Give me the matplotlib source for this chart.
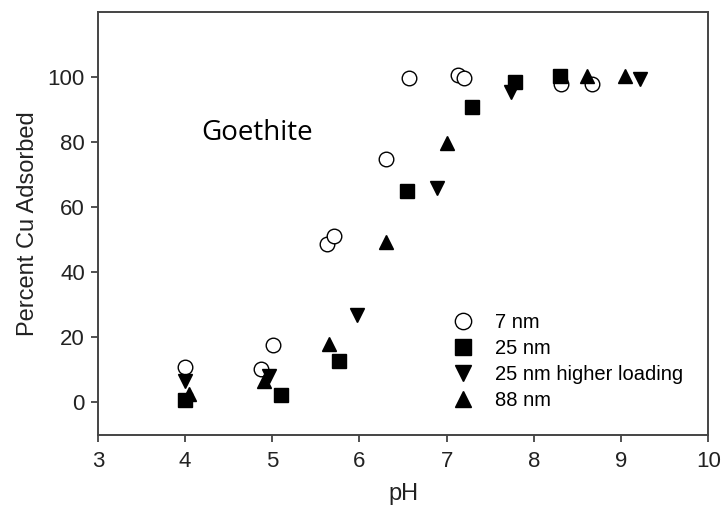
import matplotlib.pyplot as plt

plt.rcParams['font.family'] = ['Liberation Sans', 'DejaVu Sans']

# Cu adsorption on goethite vs pH, by particle size
ph_7nm = [4.0, 4.87, 5.01, 5.63, 5.71, 6.30, 6.57, 7.13, 7.20, 8.31, 8.67]
cu_7nm = [10.9, 10.1, 17.5, 48.6, 51.1, 74.8, 99.8, 100.8, 99.6, 97.8, 97.8]

ph_25nm = [4.0, 5.10, 5.76, 6.55, 7.29, 7.78, 8.30]
cu_25nm = [0.6, 2.3, 12.8, 65.0, 90.8, 98.6, 100.3]

ph_25hi = [4.0, 4.96, 5.97, 6.89, 7.74, 9.22]
cu_25hi = [6.6, 8.1, 27.0, 65.8, 95.3, 99.3]

ph_88nm = [4.05, 4.91, 5.65, 6.30, 7.0, 8.61, 9.04]
cu_88nm = [2.5, 6.6, 17.9, 49.3, 79.8, 100.3, 100.5]

fig = plt.figure(figsize=(7.25, 5.05), dpi=100)
ax = fig.add_axes([0.135, 0.139, 0.842, 0.837])

ms = 10.5
ax.plot(ph_7nm, cu_7nm, 'o', ms=ms, mfc='white', mec='black', mew=1.0, label='7 nm')
ax.plot(ph_25nm, cu_25nm, 's', ms=ms - 0.5, color='black', label='25 nm')
ax.plot(ph_25hi, cu_25hi, 'v', ms=ms, color='black', label='25 nm higher loading')
ax.plot(ph_88nm, cu_88nm, '^', ms=ms, color='black', label='88 nm')

ax.set_xlim(3, 10)
ax.set_ylim(-10, 120)
ax.set_xticks(range(3, 11))
ax.set_yticks(range(0, 101, 20))
ax.tick_params(labelsize=16, length=5, width=1.2, color='#333333', labelcolor='#222222')
ax.tick_params(axis='x', pad=6.5)
ax.tick_params(axis='y', pad=4.3)
for s in ax.spines.values():
    s.set_linewidth(1.4)
    s.set_color('#444444')

ax.set_xlabel('pH', fontsize=17, color='#222222', labelpad=8)
ax.set_ylabel('Percent Cu Adsorbed', fontsize=17, color='#222222', labelpad=6)

ax.text(4.19, 82.8, 'Goethite', fontsize=20, family=['Open Sans', 'DejaVu Sans'],
        va='center', ha='left')

ax.legend(loc='upper left', bbox_to_anchor=(0.582, 0.288), frameon=False,
          fontsize=14.5, handlelength=1.0, handletextpad=1.1, labelspacing=0.35,
          borderaxespad=0, borderpad=0, markerscale=1.12)

fig.savefig('out.png', dpi=100)
